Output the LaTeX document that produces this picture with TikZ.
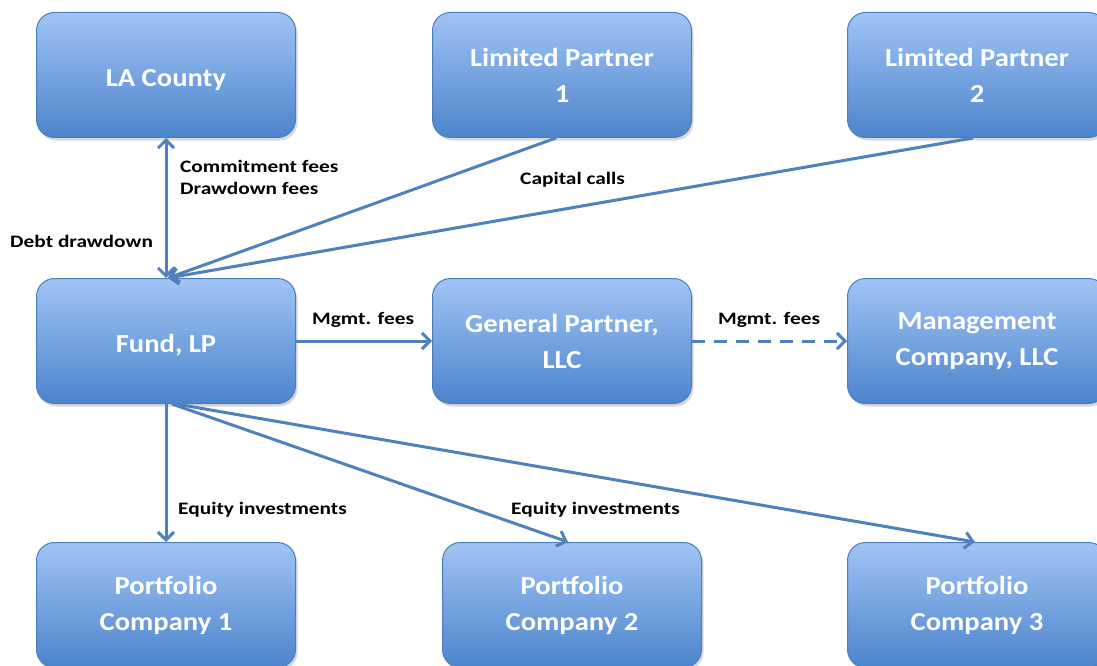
\documentclass[tikz,border=0pt]{standalone}
\usepackage{fontspec}
\setmainfont{Carlito}
\newfontfamily\boxfont[FakeStretch=1.1]{Carlito}
\newfontfamily\labelfont[FakeStretch=1.22]{Carlito}
\usetikzlibrary{arrows.meta,shadows}
\definecolor{boxtop}{RGB}{160,196,244}
\definecolor{boxbottom}{RGB}{76,132,204}
\definecolor{boxline}{RGB}{74,126,187}
\definecolor{edgeblue}{RGB}{79,129,189}
\begin{document}
\begin{tikzpicture}[x=1pt, y=-1pt,
        box_style/.style={rectangle,rounded corners=18pt,draw=boxline,line width=1pt,top color=boxtop,bottom color=boxbottom,minimum width=259pt,minimum height=125pt,align=center,text=white,font=\boxfont\fontsize{26}{36}\selectfont\bfseries,execute at begin node={\rule{0pt}{27pt}},drop shadow={shadow xshift=2pt,shadow yshift=-3pt,opacity=0.3}},
        label_style/.style={draw=none,fill=none,inner sep=0pt,align=left,font=\labelfont\fontsize{17.5}{22}\selectfont\bfseries},
        edge_style/.style={draw=edgeblue,line width=3pt,-{Straight Barb[length=8pt,width=16pt]}},
        both_edge_style/.style={draw=edgeblue,line width=3pt,{Straight Barb[length=8pt,width=16pt]}-{Straight Barb[length=8pt,width=16pt]}},
        dashed_edge_style/.style={edge_style,dash pattern=on 13pt off 9pt}]
        \useasboundingbox (0,0) rectangle (1097,666);

        % top row
        \node [box_style] (la) at (166,75) {LA County};
        \node [box_style] (lp1) at (562,75) {Limited Partner\\1};
        \node [box_style] (lp2) at (977,75) {Limited Partner\\2};
        % middle row
        \node [box_style] (fund) at (166,341) {Fund, LP};
        \node [box_style] (gp) at (562,341) {General Partner,\\LLC};
        \node [box_style] (mgmt) at (977,341) {Management\\Company, LLC};
        % bottom row
        \node [box_style] (pc1) at (166,605) {Portfolio\\Company 1};
        \node [box_style] (pc2) at (572,605) {Portfolio\\Company 2};
        \node [box_style] (pc3) at (977,605) {Portfolio\\Company 3};

        \draw [both_edge_style] (la.south) -- (fund.north);
        \draw [edge_style] ([xshift=-6pt]lp1.south) -- ([xshift=2pt]fund.north);
        \draw [edge_style] ([xshift=-4pt]lp2.south) -- ([xshift=2pt]fund.north);
        \draw [edge_style] (fund.east) -- (gp.west);
        \draw [dashed_edge_style] (gp.east) -- (mgmt.west);
        \draw [edge_style] (fund.south) -- (pc1.north);
        \draw [edge_style] ([xshift=6pt]fund.south) -- ([xshift=-4pt]pc2.north);
        \draw [edge_style] ([xshift=10pt]fund.south) -- ([xshift=-2pt]pc3.north);

        \node [label_style,anchor=west] (fees) at (180,177) {Commitment fees\\Drawdown fees};
        \node [label_style,anchor=west] (debt) at (10,241) {Debt drawdown};
        \node [label_style,anchor=west] (calls) at (520,180) {Capital calls};
        \node [label_style,anchor=west] (gpfees) at (312,320) {Mgmt. fees};
        \node [label_style,anchor=west] (mcfees) at (718,320) {Mgmt. fees};
        \node [label_style,anchor=west] (equity1) at (178,510) {Equity investments};
        \node [label_style,anchor=west] (equity2) at (511,510) {Equity investments};
\end{tikzpicture}
\end{document}
